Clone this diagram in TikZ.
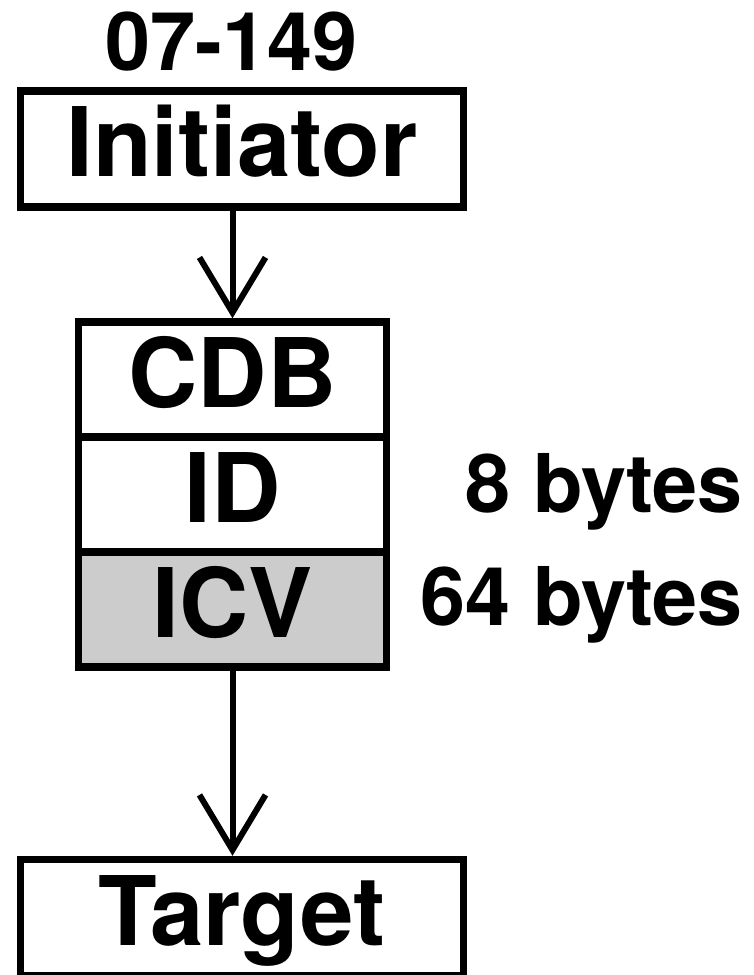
\documentclass[tikz,border=0pt]{standalone}
\usepackage{fontspec}
\setmainfont{TeX Gyre Heros}
\usetikzlibrary{arrows.meta}
\definecolor{icvgray}{RGB}{204,204,204}
\begin{document}
\begin{tikzpicture}[x=1pt,y=-1pt,
  box/.style={draw, line width=7.5pt, inner sep=0pt, font=\fontsize{96}{100}\selectfont\bfseries, text height=68pt, text depth=13pt},
  stackbox/.style={box, minimum width=308pt, minimum height=115pt},
  endbox/.style={box, minimum width=443pt, minimum height=116pt},
  lbl/.style={inner sep=0pt, font=\fontsize{81}{85}\selectfont\bfseries},
  conn/.style={line width=6pt, -{Straight Barb[length=55pt, width=66pt]}}]
\useasboundingbox (0,0) rectangle (753,975);
\node[lbl, anchor=base] (code) at (231.5,70) {07-149};
\node[endbox] (init) at (242,149) {Initiator};
\node[stackbox] (cdb) at (232.5,379.5) {CDB};
\node[stackbox] (id) at (232.5,494.5) {ID};
\node[stackbox, fill=icvgray] (icv) at (232.5,609.5) {ICV};
\node[endbox] (target) at (242,917.5) {Target};
\node[lbl, anchor=base east] (idsize) at (743,512) {8 bytes};
\node[lbl, anchor=base east] (icvsize) at (743,625) {64 bytes};
\draw[conn] (init.south -| cdb.north) -- (cdb.north);
\draw[conn] (icv.south) -- (target.north -| icv.south);
\end{tikzpicture}
\end{document}
